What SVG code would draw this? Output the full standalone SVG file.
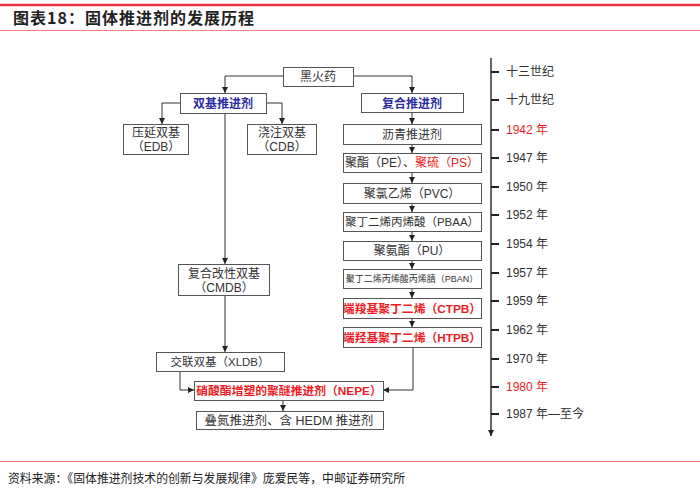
<svg xmlns="http://www.w3.org/2000/svg" width="700" height="494" viewBox="0 0 700 494">
<style>
text{font-family:"Liberation Sans","Noto Sans CJK SC",sans-serif;font-size:12px;fill:#333;text-anchor:middle}
.box{fill:#fff;stroke:#555;stroke-width:1}
.ln{fill:none;stroke:#333;stroke-width:1}
.blue{fill:#2b2b9e;font-weight:bold}
.tl{text-anchor:start;font-size:12px;fill:#333}
.red,.tl.red{fill:#ee1c25}
.redb{fill:#ee1c25;font-weight:bold}
.hdr{font-family:"Noto Sans CJK SC",sans-serif;text-anchor:start}
</style>
<defs>
<marker id="ar" viewBox="0 0 6 6" refX="6" refY="3" markerWidth="6" markerHeight="6" orient="auto" markerUnits="userSpaceOnUse">
<path d="M0,0 L6,3 L0,6 Z" fill="#222"/>
</marker>
</defs>
<rect width="700" height="494" fill="#fff"/>
<g id="header">
<line x1="0" y1="5" x2="700" y2="5" stroke="#e8383d" stroke-width="2.5"/>
<text class="hdr" x="13" y="24" style="font-size:16px;font-weight:bold;letter-spacing:1px;fill:#222">图表18：固体推进剂的发展历程</text>
<line x1="0" y1="30.5" x2="700" y2="30.5" stroke="#f08080" stroke-width="1"/>
</g>
<g id="connectors">
<path class="ln" d="M283,76 H225 V93" marker-end="url(#ar)"/>
<path class="ln" d="M353,76 H412 V93" marker-end="url(#ar)"/>
<path class="ln" d="M180,103 H162 V124" marker-end="url(#ar)"/>
<path class="ln" d="M266,103 H282 V124" marker-end="url(#ar)"/>
<path class="ln" d="M225,114 V264" marker-end="url(#ar)"/>
<path class="ln" d="M225,295 V352" marker-end="url(#ar)"/>
<path class="ln" d="M180,371 V390 H194" marker-end="url(#ar)"/>
<path class="ln" d="M413,347 V390 H383" marker-end="url(#ar)"/>
<path class="ln" d="M283,400 V411" marker-end="url(#ar)"/>
<path class="ln" d="M412,112 V124" marker-end="url(#ar)"/>
<path class="ln" d="M412,144 V153" marker-end="url(#ar)"/>
<path class="ln" d="M412,172 V183" marker-end="url(#ar)"/>
<path class="ln" d="M412,203 V212" marker-end="url(#ar)"/>
<path class="ln" d="M412,231 V241" marker-end="url(#ar)"/>
<path class="ln" d="M412,260 V269" marker-end="url(#ar)"/>
<path class="ln" d="M412,288 V298" marker-end="url(#ar)"/>
<path class="ln" d="M412,318 V327" marker-end="url(#ar)"/>
</g>
<g id="n-heihuoyao"><rect class="box" x="283.5" y="67.5" width="70" height="19"/><text x="318" y="81">黑火药</text></g>
<g id="n-shuangji"><rect class="box" x="180.5" y="93.5" width="86" height="20"/><text class="blue" x="223" y="108">双基推进剂</text></g>
<g id="n-fuhe"><rect class="box" x="361.5" y="93.5" width="102" height="19"/><text class="blue" x="412" y="108">复合推进剂</text></g>
<g id="n-edb"><rect class="box" x="123.5" y="124.5" width="65" height="30"/><text x="156" y="137">压延双基</text><text x="156" y="151">（EDB）</text></g>
<g id="n-cdb"><rect class="box" x="247.5" y="124.5" width="69" height="30"/><text x="282" y="137">浇注双基</text><text x="282" y="151">（CDB）</text></g>
<g id="n-cmdb"><rect class="box" x="178.5" y="264.5" width="91" height="31"/><text x="224" y="278">复合改性双基</text><text x="224" y="292">（CMDB）</text></g>
<g id="n-xldb"><rect class="box" x="156.5" y="352.5" width="128" height="19"/><text x="220" y="366" style="font-size:11.5px">交联双基（XLDB）</text></g>
<g id="n-nepe"><rect class="box" x="194.5" y="381.5" width="189" height="19"/><text class="redb" x="289" y="395" style="font-size:11.8px">硝酸酯增塑的聚醚推进剂（NEPE）</text></g>
<g id="n-hedm"><rect class="box" x="196.5" y="411.5" width="187" height="18"/><text x="289" y="425" style="font-size:12.5px">叠氮推进剂、含 HEDM 推进剂</text></g>
<g id="n-liqing"><rect class="box" x="343.5" y="124.5" width="138" height="20"/><text x="412" y="139">沥青推进剂</text></g>
<g id="n-pe"><rect class="box" x="343.5" y="153.5" width="138" height="19"/><text x="412" y="167">聚酯（PE）、<tspan class="red">聚硫（PS）</tspan></text></g>
<g id="n-pvc"><rect class="box" x="343.5" y="183.5" width="138" height="20"/><text x="412" y="198">聚氯乙烯（PVC）</text></g>
<g id="n-pbaa"><rect class="box" x="343.5" y="212.5" width="138" height="19"/><text x="412" y="226" style="font-size:11.5px">聚丁二烯丙烯酸（PBAA）</text></g>
<g id="n-pu"><rect class="box" x="343.5" y="241.5" width="138" height="19"/><text x="412" y="255">聚氨酯（PU）</text></g>
<g id="n-pban"><rect class="box" x="343.5" y="269.5" width="138" height="19"/><text x="412" y="282" style="font-size:9px">聚丁二烯丙烯酸丙烯腈（PBAN）</text></g>
<g id="n-ctpb"><rect class="box" x="343.5" y="298.5" width="138" height="20"/><text class="redb" x="412" y="313" style="font-size:11.8px">端羧基聚丁二烯（CTPB）</text></g>
<g id="n-htpb"><rect class="box" x="343.5" y="327.5" width="138" height="20"/><text class="redb" x="412" y="342" style="font-size:11.8px">端羟基聚丁二烯（HTPB）</text></g>
<g id="timeline">
<path d="M491,58 V436" stroke="#333" stroke-width="1.5" fill="none" marker-end="url(#ar)"/>
<path d="M491,72H499M491,100H499M491,130H499M491,158H499M491,187H499M491,215H499M491,244H499M491,273H499M491,301H499M491,330H499M491,359H499M491,387H499M491,414H499" stroke="#222" stroke-width="2"/>
<text class="tl" x="506" y="76">十三世纪</text>
<text class="tl" x="506" y="104">十九世纪</text>
<text class="tl red" x="506" y="134">1942 年</text>
<text class="tl" x="506" y="162">1947 年</text>
<text class="tl" x="506" y="191">1950 年</text>
<text class="tl" x="506" y="219">1952 年</text>
<text class="tl" x="506" y="248">1954 年</text>
<text class="tl" x="506" y="277">1957 年</text>
<text class="tl" x="506" y="305">1959 年</text>
<text class="tl" x="506" y="334">1962 年</text>
<text class="tl" x="506" y="363">1970 年</text>
<text class="tl red" x="506" y="391">1980 年</text>
<text class="tl" x="506" y="418">1987 年—至今</text>
</g>
<g id="footer">
<line x1="0" y1="461.5" x2="700" y2="461.5" stroke="#f08080" stroke-width="1"/>
<text class="hdr" x="8" y="483" style="font-size:12.5px;fill:#222" textLength="397" lengthAdjust="spacingAndGlyphs">资料来源：《固体推进剂技术的创新与发展规律》庞爱民等，中邮证券研究所</text>
</g>
</svg>
